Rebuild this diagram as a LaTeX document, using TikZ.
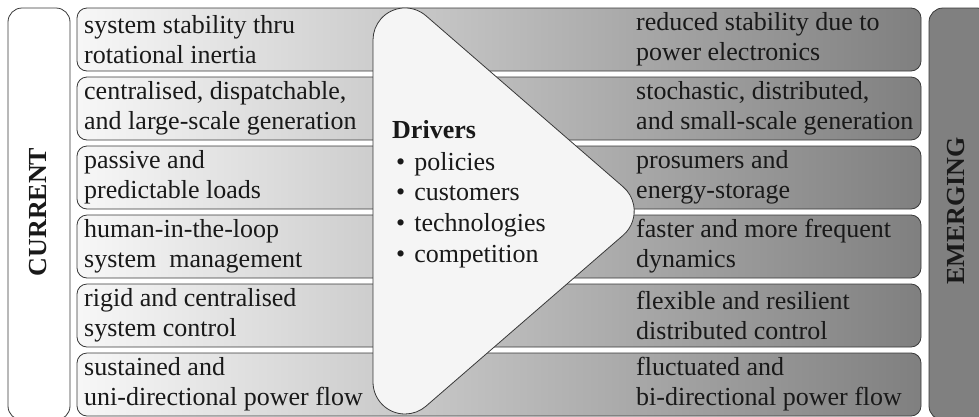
\documentclass[tikz,border=0pt]{standalone}
\usepackage{fontspec}
\setmainfont{Liberation Serif}

\begin{document}
\begin{tikzpicture}[x=1pt,y=-1pt,
    rowbox/.style={draw=black!78, line width=0.8pt, rounded corners=10pt,
        left color=black!3, right color=black!50,
        minimum width=844pt, minimum height=63pt, inner sep=0pt},
    sidebox/.style={draw=black!78, line width=0.8pt, rounded corners=14pt,
        minimum width=62pt, minimum height=412pt, inner sep=0pt},
    txt/.style={anchor=west, align=left, inner sep=0pt, text=black!90,
        font=\fontsize{26}{30}\selectfont},
    title/.style={rotate=90, inner sep=0pt, text=black!90,
        font=\fontsize{26}{30}\selectfont\bfseries},
    item/.style={anchor=base west, inner sep=0pt, text=black!90,
        font=\fontsize{26}{30}\selectfont}]

    \useasboundingbox (0,0) rectangle (979,416);

    % side boxes
    \node[sidebox, fill=white] at (39,214) (curbox) {};
    \node[sidebox, fill=black!50] at (960,214) (emgbox) {};
    \node[title] at (38,212) (cur) {CURRENT};
    \node[title] at (956,211) (emg) {EMERGING};

    % rows
    \node[rowbox] at (499,39.5) (row1) {};
    \node[rowbox] at (499,108.5) (row2) {};
    \node[rowbox] at (499,177.5) (row3) {};
    \node[rowbox] at (499,246.5) (row4) {};
    \node[rowbox] at (499,315.5) (row5) {};
    \node[rowbox] at (499,384.5) (row6) {};

    % drivers arrow
    \draw[draw=black!78, line width=0.8pt, fill=black!4]
        (373,40) -- (373,382) arc[start angle=180, end angle=49, radius=32]
        -- (623.2,235.2) arc[start angle=49, end angle=-49, radius=32]
        -- (426,15.8) arc[start angle=-49, end angle=-180, radius=32] -- cycle;

    % current side
    \node[txt] at (84,39.5) (cur1) {system stability thru\\rotational inertia};
    \node[txt] at (84,108.5) (cur2) {centralised, dispatchable,\\and large-scale generation};
    \node[txt] at (84,177.5) (cur3) {passive and\\predictable loads};
    \node[txt] at (84,246.5) (cur4) {human-in-the-loop\\system\ \ management};
    \node[txt] at (84,315.5) (cur5) {rigid and centralised\\system control};
    \node[txt] at (84,384.5) (cur6) {sustained and\\uni-directional power flow};

    % emerging side
    \node[txt] at (636,39.5) (emg1) {reduced stability due to\\power electronics};
    \node[txt] at (636,108.5) (emg2) {stochastic, distributed,\\and small-scale generation};
    \node[txt] at (636,177.5) (emg3) {prosumers and\\energy-storage};
    \node[txt] at (636,246.5) (emg4) {faster and more frequent\\dynamics};
    \node[txt] at (636,315.5) (emg5) {flexible and resilient\\distributed control};
    \node[txt] at (636,384.5) (emg6) {fluctuated and\\bi-directional power flow};

    % drivers
    \node[item, font=\fontsize{26}{30}\selectfont\bfseries] at (392,138) (drv) {Drivers};
    \node[item] at (396,170) (pol) {\textbullet\hspace{9pt}policies};
    \node[item] at (396,200.7) (cus) {\textbullet\hspace{9pt}customers};
    \node[item] at (396,231.3) (tec) {\textbullet\hspace{9pt}technologies};
    \node[item] at (396,262) (com) {\textbullet\hspace{9pt}competition};
\end{tikzpicture}
\end{document}
